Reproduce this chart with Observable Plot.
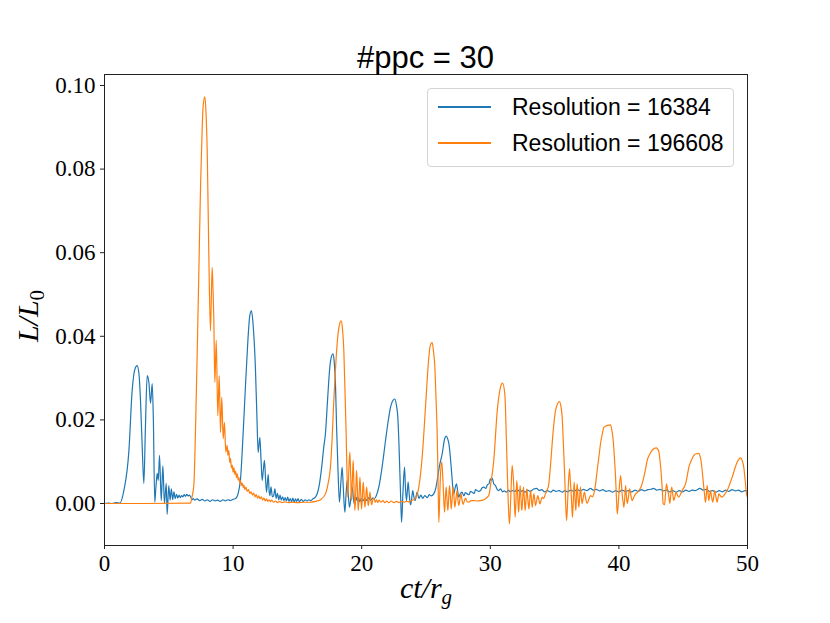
<!DOCTYPE html>
<html>
<head>
<meta charset="utf-8">
<script src="https://cdn.jsdelivr.net/npm/d3@7"></script>
<script src="https://cdn.jsdelivr.net/npm/@observablehq/plot@0.6"></script>
<style>
  html, body { margin: 0; padding: 0; background: white; }
  #wrap { position: relative; width: 830px; height: 623px; }
  #legend { position: absolute; left: 427px; top: 88px; width: 307px; height: 79px; box-sizing: border-box;
    border: 1px solid #d4d4d4; border-radius: 4px; background: rgba(255,255,255,0.85);
    font-family: "Liberation Sans", Arial, sans-serif; font-size: 23px; color: #000; }
  .lg-line { position: absolute; left: 10px; width: 53px; height: 1.4px; }
  .lg-text { position: absolute; left: 84px; line-height: 26px; white-space: nowrap; }
</style>
</head>
<body>
<div id="wrap"></div>
<script>
const titleText = "#ppc = 30";
const seriesNames = ["Resolution = 16384", "Resolution = 196608"];
const seriesColors = ["#1f77b4", "#ff7f0e"];
const xTicks = [0, 10, 20, 30, 40, 50];
const yTicks = [0, 0.02, 0.04, 0.06, 0.08, 0.10];

// [ct/r_g, L/L0]
const res16384 = [
[0,0],[0.3,0.0001],[0.6,0],[0.9,0.0002],[1.2,0.0001],[1.5,0.003],[1.9,0.0127],[2.15,0.027],[2.4,0.0325],[2.54,0.033],
[2.68,0.031],[2.8,0.0246],[2.95,0.012],[3.06,0.0048],[3.18,0.018],[3.32,0.0306],[3.45,0.029],[3.58,0.024],[3.71,0.0287],[3.8,0.02],
[3.91,0.0003],[4.0,0.004],[4.1,0.0072],[4.18,0.0055],[4.28,0.0115],[4.41,0.0007],[4.54,0.009],[4.66,0],[4.8,0.0048],[4.87,-0.0026],
[5.0,0.0043],[5.1,0.0008],[5.2,0.0035],[5.3,0.0009],[5.4,0.0028],[5.5,0.0012],[5.6,0.0022],[5.7,0.0013],[5.8,0.002],[5.9,0.0014],
[6.0,0.0019],[6.1,0.0016],[6.2,0.0021],[6.3,0.0017],[6.4,0.0022],[6.5,0.0018],[6.6,0.002],[6.7,0.0016],[6.8,0.0009],[6.9,0.0012],
[7.0,0.0008],[7.2,0.0011],[7.4,0.0007],[7.6,0.001],[7.8,0.0006],[8.0,0.0009],[8.2,0.0005],[8.4,0.0009],[8.6,0.0006],[8.8,0.0008],
[9.0,0.0005],[9.2,0.0009],[9.4,0.0006],[9.6,0.0009],[9.8,0.0007],[10.0,0.001],[10.2,0.0012],[10.4,0.0025],[10.58,0.006],[10.8,0.018],
[10.96,0.028],[11.15,0.039],[11.3,0.045],[11.43,0.0461],[11.55,0.043],[11.74,0.032],[11.85,0.021],[11.95,0.0122],[12.08,0.0158],[12.18,0.01],
[12.26,0.0055],[12.35,0.008],[12.44,0.0103],[12.52,0.006],[12.6,0.0027],[12.73,0.007],[12.8,0.003],[12.86,0.0019],[12.95,0.004],[13.05,0.0016],
[13.15,0.0018],[13.25,0.0035],[13.35,0.0012],[13.45,0.0024],[13.55,0.0009],[13.65,0.002],[13.75,0.0008],[13.85,0.0016],[13.95,0.0007],[14.05,0.0014],
[14.15,0.0006],[14.25,0.0015],[14.35,0.0005],[14.45,0.0012],[14.55,0.0004],[14.65,0.0013],[14.75,0.0003],[14.85,0.0011],[14.95,0.0005],[15.05,0.0012],
[15.15,0.0004],[15.3,0.001],[15.45,0.0005],[15.6,0.0009],[15.75,0.0006],[15.9,0.0009],[16.05,0.0007],[16.2,0.0011],[16.4,0.0015],[16.67,0.0039],
[16.9,0.009],[17.05,0.0135],[17.18,0.0167],[17.35,0.025],[17.52,0.0326],[17.65,0.0352],[17.76,0.0358],[17.86,0.034],[17.96,0.0287],[18.05,0.018],
[18.15,0.0087],[18.27,0.0003],[18.38,0.005],[18.48,0.0087],[18.58,0.003],[18.69,-0.0021],[18.78,0.002],[18.87,0.0055],[18.96,0.002],[19.05,-0.0009],
[19.15,0.001],[19.26,0.0039],[19.36,0.001],[19.46,-0.0002],[19.56,0.0015],[19.66,0.0006],[19.76,0.0013],[19.86,0.0004],[19.96,0.0012],[20.1,0.0006],
[20.25,0.0013],[20.4,0.0007],[20.55,0.0014],[20.7,0.0008],[20.85,0.0013],[21.0,0.0012],[21.15,0.002],[21.33,0.0039],[21.6,0.009],[21.85,0.015],
[22.05,0.0195],[22.24,0.023],[22.4,0.0245],[22.58,0.025],[22.7,0.0235],[22.81,0.0206],[22.9,0.014],[22.97,0.0071],[23.04,0.0005],[23.1,-0.0045],
[23.2,0.002],[23.33,0.0087],[23.4,0.004],[23.48,0.0007],[23.55,0.003],[23.61,0.0051],[23.7,0.002],[23.8,-0.0003],[23.88,0.001],[23.97,0.0031],
[24.05,0.0017],[24.15,0.0007],[24.31,0.0027],[24.45,0.0012],[24.6,0.002],[24.75,0.0012],[24.9,0.0019],[25.1,0.0014],[25.25,0.0021],[25.4,0.0018],
[25.6,0.0023],[25.75,0.0035],[25.87,0.0055],[26.05,0.009],[26.26,0.0119],[26.45,0.0155],[26.57,0.0161],[26.68,0.0155],[26.78,0.0143],[26.96,0.0087],
[27.08,0.004],[27.16,0.0023],[27.25,0.0035],[27.37,0.0047],[27.46,0.003],[27.55,0.0015],[27.65,0.0022],[27.8,0.0027],[27.95,0.0018],[28.05,0.0026],
[28.2,0.0023],[28.35,0.0021],[28.45,0.0029],[28.6,0.0027],[28.75,0.0024],[28.85,0.0033],[28.98,0.0031],[29.1,0.0029],[29.24,0.0031],[29.35,0.0037],
[29.5,0.0039],[29.65,0.0036],[29.78,0.0045],[29.9,0.0047],[30.0,0.0059],[30.07,0.0056],[30.15,0.006],[30.27,0.0047],[30.4,0.0043],[30.55,0.0033],
[30.66,0.0031],[30.8,0.0035],[30.95,0.0028],[31.1,0.003],[31.25,0.0027],[31.4,0.0032],[31.55,0.0028],[31.7,0.0031],[31.9,0.0029],[32.1,0.0033],
[32.3,0.0028],[32.5,0.0031],[32.7,0.0027],[32.9,0.0032],[33.1,0.0029],[33.35,0.0034],[33.6,0.0036],[33.8,0.0031],[34.0,0.0033],[34.2,0.0028],
[34.45,0.0031],[34.7,0.0027],[34.9,0.0032],[35.1,0.0029],[35.35,0.0031],[35.6,0.0027],[35.8,0.0031],[36.0,0.0028],[36.25,0.0032],[36.5,0.0029],
[36.75,0.0033],[37.0,0.003],[37.25,0.0034],[37.5,0.0031],[37.8,0.0036],[38.0,0.0032],[38.25,0.0034],[38.5,0.003],[38.75,0.0033],[39.0,0.0029],
[39.25,0.0031],[39.5,0.0027],[39.75,0.0031],[40.0,0.0028],[40.25,0.0032],[40.5,0.0029],[40.75,0.0031],[41.0,0.0028],[41.25,0.0032],[41.5,0.0029],
[41.75,0.0033],[42.0,0.003],[42.25,0.0033],[42.5,0.0034],[42.7,0.0036],[42.95,0.0032],[43.2,0.0034],[43.45,0.003],[43.7,0.0032],[43.95,0.0028],
[44.2,0.0031],[44.45,0.0027],[44.7,0.0031],[44.95,0.0028],[45.2,0.0032],[45.45,0.0029],[45.7,0.0032],[45.95,0.0031],[46.3,0.0036],[46.55,0.0032],
[46.8,0.0034],[47.05,0.0029],[47.3,0.0031],[47.55,0.0027],[47.8,0.0031],[48.05,0.0028],[48.3,0.0032],[48.55,0.0029],[48.8,0.0033],[49.05,0.003],
[49.3,0.0032],[49.55,0.0028],[49.8,0.0031],[50.0,0.003]
];

const res196608 = [
[0,0],[3,0],[6.69,0.0001],[6.8,0.0015],[6.95,0.0045],[7.08,0.018],[7.21,0.0362],[7.34,0.056],[7.47,0.076],[7.57,0.087],
[7.67,0.0951],[7.8,0.0973],[7.9,0.093],[7.99,0.0839],[8.11,0.06],[8.24,0.0413],[8.37,0.0565],[8.45,0.05],[8.5,0.0441],[8.58,0.029],
[8.69,0.039],[8.81,0.021],[8.92,0.0306],[9.02,0.017],[9.12,0.0254],[9.23,0.0155],[9.33,0.0194],[9.43,0.0123],[9.54,0.0139],[9.6,0.0115],
[9.67,0.0127],[9.74,0.0098],[9.8,0.0108],[9.87,0.0085],[9.93,0.0092],[10.0,0.0075],[10.06,0.0086],[10.13,0.007],[10.2,0.0077],[10.26,0.0062],
[10.32,0.0071],[10.4,0.0056],[10.46,0.0062],[10.52,0.0049],[10.58,0.0055],[10.65,0.0043],[10.72,0.0049],[10.78,0.0038],[10.84,0.0044],[10.92,0.0033],
[11.0,0.0039],[11.1,0.0029],[11.2,0.0033],[11.3,0.0024],[11.4,0.0028],[11.5,0.002],[11.6,0.0025],[11.7,0.0016],[11.8,0.0021],[11.9,0.0013],
[12.0,0.0018],[12.1,0.0011],[12.2,0.0016],[12.3,0.0008],[12.4,0.0013],[12.5,0.0006],[12.6,0.0011],[12.7,0.0005],[12.8,0.0009],[12.9,0.0004],
[13.0,0.0008],[13.15,0.0003],[13.3,0.0006],[13.45,0.0002],[13.6,0.0005],[13.8,0.0002],[14.0,0.0004],[14.3,0.0002],[14.6,0.0003],[15.0,0.0002],
[15.5,0.0003],[16.0,0.0003],[16.4,0.0005],[16.8,0.0009],[17.18,0.0023],[17.4,0.005],[17.57,0.0087],[17.7,0.0155],[17.83,0.0246],[17.96,0.032],
[18.09,0.0382],[18.25,0.0425],[18.4,0.0437],[18.5,0.042],[18.61,0.0366],[18.7,0.027],[18.79,0.0167],[18.86,0.007],[18.92,0.0015],[19.0,0.008],
[19.08,0.0123],[19.15,0.006],[19.21,0.0007],[19.28,0.006],[19.34,0.0103],[19.4,0.004],[19.47,-0.0017],[19.54,0.003],[19.6,0.0079],[19.67,0.003],
[19.73,-0.0017],[19.8,0.002],[19.86,0.0063],[19.93,0.002],[19.99,-0.0013],[20.06,0.002],[20.12,0.0051],[20.19,0.002],[20.25,-0.0009],[20.32,0.0015],
[20.38,0.0039],[20.45,0.0015],[20.51,-0.0005],[20.58,0.001],[20.64,0.0027],[20.7,0.001],[20.77,-0.0003],[20.86,0.0008],[20.95,0.0013],[21.05,0.0003],
[21.15,0.0009],[21.25,0.0002],[21.35,0.0008],[21.5,0.0003],[21.65,0.0007],[21.8,0.0002],[21.95,0.0006],[22.1,0.0002],[22.3,0.0006],[22.5,0.0002],
[22.7,0.0005],[22.9,0.0002],[23.1,0.0005],[23.3,0.0003],[23.5,0.0005],[23.7,0.0004],[23.9,0.0007],[24.05,0.0009],[24.2,0.0013],[24.44,0.0039],
[24.7,0.011],[24.96,0.023],[25.1,0.03],[25.22,0.035],[25.35,0.038],[25.48,0.0385],[25.58,0.0365],[25.69,0.0326],[25.78,0.025],[25.87,0.0167],
[25.94,0.005],[26.0,-0.0045],[26.07,0.002],[26.13,0.0071],[26.23,0.0099],[26.34,0.004],[26.44,-0.0021],[26.5,0.001],[26.57,0.0039],[26.63,0.001],
[26.7,-0.0017],[26.76,0.001],[26.83,0.0043],[26.9,0.0015],[26.96,-0.0013],[27.03,0.001],[27.11,0.0039],[27.18,0.0015],[27.24,-0.0009],[27.33,0.0012],
[27.42,0.0031],[27.48,0.001],[27.55,-0.0005],[27.64,0.001],[27.73,0.0023],[27.8,0.0008],[27.89,-0.0002],[27.98,0.0006],[28.07,0.0013],[28.2,0.0004],
[28.33,0.0003],[28.5,0.0007],[28.72,0.0007],[29.0,0.0006],[29.24,0.0007],[29.5,0.0009],[29.76,0.0015],[29.88,0.0019],[30.05,0.005],[30.27,0.0103],
[30.54,0.0222],[30.79,0.0278],[30.95,0.0288],[31.13,0.0262],[31.26,0.0143],[31.39,0.0007],[31.49,-0.0049],[31.56,-0.001],[31.62,0.0039],[31.7,0.0091],
[31.83,0.0039],[31.93,-0.0033],[32.0,0.001],[32.06,0.0055],[32.13,0.002],[32.2,-0.0021],[32.26,0.001],[32.32,0.0043],[32.39,0.001],[32.45,-0.0017],
[32.52,0.001],[32.58,0.0039],[32.65,0.001],[32.71,-0.0017],[32.78,0.001],[32.84,0.0035],[32.92,0.001],[33.0,-0.0013],[33.07,0.001],[33.13,0.0031],
[33.2,0.001],[33.26,-0.0009],[33.33,0.001],[33.39,0.0023],[33.46,0.0008],[33.52,-0.0005],[33.61,0.0008],[33.7,0.0019],[33.78,0.0008],[33.86,-0.0001],
[33.95,0.0008],[34.04,0.0015],[34.15,0.0012],[34.29,0.0023],[34.42,0.0032],[34.55,0.0047],[34.68,0.009],[34.81,0.0143],[34.94,0.019],[35.07,0.0222],
[35.22,0.0238],[35.38,0.0244],[35.49,0.0232],[35.59,0.0206],[35.68,0.0145],[35.77,0.0079],[35.85,0.001],[35.93,-0.0041],[36.0,-0.0005],[36.06,0.0039],
[36.16,0.0083],[36.22,0.0055],[36.29,0.0023],[36.34,-0.0008],[36.39,-0.0033],[36.45,0.0005],[36.52,0.0051],[36.58,0.0015],[36.65,-0.0017],[36.7,0.0015],
[36.75,0.0047],[36.82,0.0015],[36.88,-0.0009],[36.95,0.0015],[37.01,0.0039],[37.08,0.0015],[37.14,0],[37.23,0.0015],[37.32,0.0027],[37.43,0.001],
[37.53,0],[37.66,0.001],[37.79,0.0019],[37.92,0.0016],[38.05,0.0023],[38.18,0.0045],[38.31,0.0079],[38.44,0.011],[38.57,0.0143],[38.7,0.0165],
[38.83,0.0182],[39.1,0.0187],[39.35,0.0188],[39.47,0.0172],[39.56,0.015],[39.65,0.011],[39.74,0.0063],[39.8,0.002],[39.87,-0.0025],[39.94,-0.0005],
[40.0,0.0023],[40.13,0.0067],[40.2,0.0045],[40.26,0.0019],[40.33,0.0003],[40.39,-0.0009],[40.45,0.001],[40.52,0.0043],[40.58,0.002],[40.65,0],
[40.74,0.0015],[40.83,0.0035],[40.93,0.002],[41.03,0.0007],[41.16,0.0015],[41.29,0.0023],[41.42,0.0026],[41.55,0.0031],[41.75,0.0042],[41.94,0.0063],
[42.07,0.0082],[42.2,0.0103],[42.4,0.0118],[42.6,0.0128],[42.9,0.0133],[43.1,0.0125],[43.2,0.0102],[43.29,0.0071],[43.37,0.0035],[43.44,0],
[43.55,-0.0003],[43.62,0.002],[43.7,0.0047],[43.76,0.0038],[43.83,0.0027],[43.9,0.0012],[43.96,0],[44.03,0.002],[44.11,0.0039],[44.19,0.0022],
[44.27,0.0007],[44.36,0.0017],[44.45,0.0027],[44.55,0.002],[44.66,0.0015],[44.8,0.0023],[44.92,0.0031],[45.05,0.0038],[45.18,0.0047],[45.31,0.0065],
[45.44,0.0087],[45.63,0.0103],[45.83,0.0115],[46.0,0.0119],[46.21,0.012],[46.32,0.0112],[46.42,0.0095],[46.51,0.0068],[46.6,0.0039],[46.67,0.0018],
[46.73,0.0003],[46.8,0.002],[46.86,0.0043],[46.93,0.0025],[46.99,0.0007],[47.05,0.0018],[47.12,0.0031],[47.21,0.0015],[47.3,0.0003],[47.37,0.0015],
[47.45,0.0031],[47.55,0.0015],[47.64,0.0003],[47.7,0.0012],[47.77,0.0023],[47.9,0.0018],[48.03,0.0015],[48.22,0.0022],[48.42,0.0031],[48.6,0.0045],
[48.81,0.0063],[49.0,0.0082],[49.2,0.0099],[49.46,0.0109],[49.6,0.0102],[49.71,0.0087],[49.82,0.0055],[49.92,0.0023],[50.0,0.0015]
];

const toRows = arr => arr.map(([t, v]) => ({t, v}));

const chart = Plot.plot({
  width: 830,
  height: 623,
  marginLeft: 104,
  marginRight: 83,
  marginTop: 74,
  marginBottom: 78,
  style: { background: "white", fontFamily: "'Liberation Serif', 'DejaVu Serif', serif", fontSize: "23px", color: "#000" },
  x: { domain: [0, 50] },
  y: { domain: [-0.01005, 0.10263] },
  marks: [
    Plot.line(toRows(res16384), { x: "t", y: "v", stroke: seriesColors[0], strokeWidth: 1.2, curve: "monotone-x" }),
    Plot.line(toRows(res196608), { x: "t", y: "v", stroke: seriesColors[1], strokeWidth: 1.2, curve: "monotone-x" }),
    Plot.axisX({ ticks: xTicks, tickSize: 4, tickPadding: 5, tickFormat: d => String(d), label: null, fontSize: 23, stroke: "#222" }),
    Plot.axisY({ ticks: yTicks, tickSize: 4, tickPadding: 5, tickFormat: d3.format(".2f"), label: null, fontSize: 23, stroke: "#222" }),
    Plot.frame({ stroke: "#222", strokeWidth: 1 })
  ]
});

const svg = d3.select(chart);
// title
svg.append("text")
  .attr("x", 425.5).attr("y", 68)
  .attr("text-anchor", "middle")
  .attr("font-family", "'Liberation Sans', Arial, sans-serif")
  .attr("font-size", 31)
  .attr("fill", "#000")
  .text(titleText);
// x label: ct/r_g
const xl = svg.append("text")
  .attr("x", 426).attr("y", 598)
  .attr("text-anchor", "middle")
  .attr("font-family", "'Liberation Serif', 'DejaVu Serif', serif")
  .attr("font-style", "italic")
  .attr("font-size", 30)
  .attr("fill", "#000");
xl.append("tspan").text("ct/r");
xl.append("tspan").attr("font-size", 21).attr("dy", 6).text("g");
// y label: L/L_0
const yl = svg.append("text")
  .attr("transform", "translate(38,316) rotate(-90)")
  .attr("text-anchor", "middle")
  .attr("font-family", "'Liberation Serif', 'DejaVu Serif', serif")
  .attr("font-size", 30)
  .attr("fill", "#000");
yl.append("tspan").attr("font-style", "italic").text("L/L");
yl.append("tspan").attr("font-size", 21).attr("dy", 6).text("0");

const wrap = document.getElementById("wrap");
wrap.appendChild(chart);

// legend
const legend = document.createElement("div");
legend.id = "legend";
seriesNames.forEach((name, i) => {
  const cy = 18 + i * 36;
  const line = document.createElement("div");
  line.className = "lg-line";
  line.style.top = (cy - 0.7) + "px";
  line.style.background = seriesColors[i];
  legend.appendChild(line);
  const txt = document.createElement("div");
  txt.className = "lg-text";
  txt.style.top = (cy - 13) + "px";
  txt.textContent = name;
  legend.appendChild(txt);
});
wrap.appendChild(legend);
</script>
</body>
</html>
